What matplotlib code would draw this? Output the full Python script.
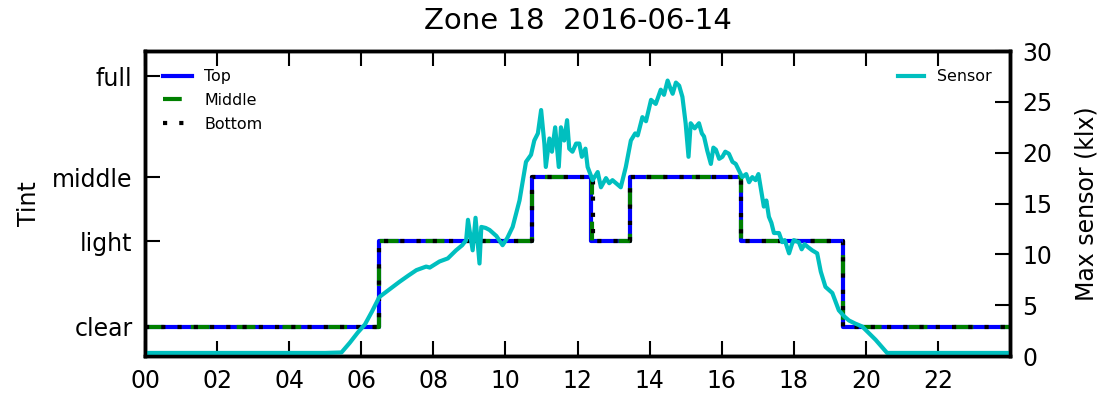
import numpy as np
import matplotlib
matplotlib.use('Agg')
import matplotlib.pyplot as plt

# tint schedule (hours, level) for each window pane
tint_names = ['clear', 'light', 'middle', 'full']
tint_pos = [2.9, 11.3, 17.6, 27.5]

top_t = [0.0, 6.49, 10.75, 12.38, 13.45, 16.55, 19.37, 24.0]
top_lvl = ['clear', 'light', 'middle', 'light', 'middle', 'light', 'clear', 'clear']
mid_t = [0.0, 6.49, 10.75, 12.39, 13.45, 16.55, 19.37, 24.0]
mid_lvl = ['clear', 'light', 'middle', 'light', 'middle', 'light', 'clear', 'clear']
bot_t = [0.0, 6.49, 10.75, 12.44, 13.45, 16.55, 19.37, 24.0]
bot_lvl = ['clear', 'light', 'middle', 'light', 'middle', 'light', 'clear', 'clear']

# max sensor reading, klx
sens_t = [0.0, 1.0, 2.0, 3.0, 4.0, 5.0, 5.45, 5.68, 5.9, 6.1, 6.3, 6.5, 6.8, 7.06, 7.3, 7.53,
          7.8, 7.9, 8.17, 8.4, 8.63, 8.8, 8.91, 8.96, 9.02, 9.09, 9.17, 9.22, 9.28, 9.33,
          9.45, 9.56, 9.75, 9.92, 10.05, 10.2, 10.39, 10.57, 10.71, 10.8, 10.9, 10.99, 11.08,
          11.12, 11.22, 11.29, 11.38, 11.48, 11.54, 11.63, 11.71, 11.77, 11.86, 11.96, 12.05,
          12.12, 12.22, 12.28, 12.42, 12.56, 12.65, 12.79, 12.88, 12.97, 13.1, 13.2, 13.34,
          13.48, 13.6, 13.67, 13.8, 13.9, 14.04, 14.17, 14.31, 14.4, 14.5, 14.58, 14.64,
          14.73, 14.82, 14.91, 15.0, 15.08, 15.14, 15.25, 15.37, 15.45, 15.51, 15.6, 15.7,
          15.77, 15.84, 15.93, 16.02, 16.1, 16.2, 16.3, 16.39, 16.57, 16.68, 16.76, 16.85,
          16.94, 17.02, 17.08, 17.17, 17.24, 17.31, 17.38, 17.45, 17.59, 17.68, 17.75, 17.87,
          17.95, 18.0, 18.14, 18.22, 18.3, 18.4, 18.51, 18.65, 18.75, 18.88, 19.07, 19.25,
          19.4, 19.53, 19.7, 19.9, 20.27, 20.59, 21.0, 22.0, 23.0, 24.0]
sens_v = [0.3, 0.3, 0.3, 0.3, 0.3, 0.3, 0.35, 1.3, 2.3, 3.1, 4.4, 5.8, 6.6, 7.3, 7.9, 8.45,
          8.8, 8.7, 9.3, 9.6, 10.4, 10.9, 11.4, 13.4, 12.0, 10.4, 13.6, 11.5, 9.1, 12.7,
          12.6, 12.4, 11.8, 10.9, 11.6, 12.7, 15.3, 19.1, 19.8, 21.2, 21.9, 24.2, 20.9,
          18.6, 21.4, 20.1, 22.5, 18.6, 22.5, 21.2, 23.2, 20.4, 20.1, 20.9, 20.9,
          19.6, 20.4, 18.6, 17.3, 18.1, 16.6, 17.5, 17.0, 17.3, 16.9, 16.6, 18.6,
          21.2, 21.9, 21.7, 23.5, 23.1, 25.2, 24.8, 26.2, 25.7, 27.1, 26.3, 25.8,
          26.9, 26.6, 25.5, 22.9, 19.6, 22.9, 22.4, 22.9, 21.9, 21.6, 20.2, 18.9,
          20.5, 20.3, 19.4, 19.6, 20.1, 19.9, 19.1, 18.9, 17.6, 17.9, 17.1, 17.6,
          17.3, 17.9, 16.6, 14.7, 15.3, 13.7, 13.1, 12.1, 12.1, 11.2, 11.4, 10.1,
          11.0, 11.4, 11.2, 10.5, 11.0, 10.7, 10.4, 10.1, 8.3, 6.8, 6.2, 4.5,
          3.9, 3.5, 3.2, 2.9, 1.6, 0.3, 0.3, 0.3, 0.3, 0.3]

hour_ticks = list(range(0, 24, 2))
hour_labels = ['%02d' % h for h in hour_ticks]

lvl = dict(zip(tint_names, tint_pos))
fs = 17
lw = 3.0

fig = plt.figure(figsize=(10.99, 3.96), dpi=100)
ax = fig.add_axes([0.132, 0.101, 0.787, 0.770])
ax.plot(top_t, [lvl[k] for k in top_lvl], color='b', lw=lw, drawstyle='steps-post', label='Top')
ax.plot(mid_t, [lvl[k] for k in mid_lvl], color='g', lw=lw, drawstyle='steps-post',
        ls=(0, (4.5, 6.5)), label='Middle')
ax.plot(bot_t, [lvl[k] for k in bot_lvl], color='k', lw=lw, drawstyle='steps-post',
        ls=(0, (1.0, 2.9)), label='Bottom')
ax.set_xlim(0, 24)
ax.set_ylim(0, 30)
ax.set_yticks(tint_pos)
ax.set_yticklabels(tint_names)
ax.set_xticks(hour_ticks)
ax.set_xticklabels(hour_labels)
ax.set_ylabel('Tint', fontsize=fs, labelpad=8)
ax.tick_params(axis='both', direction='in', length=11, width=1.5, labelsize=fs, pad=9)
ax.tick_params(axis='x', top=True)
ax.tick_params(axis='y', right=False)
for s in ax.spines.values():
    s.set_linewidth(2.5)
ax.legend(loc='upper left', frameon=False, fontsize=11.4, handlelength=1.8,
          labelspacing=0.55, borderaxespad=0.75)

ax2 = ax.twinx()
ax2.plot(sens_t, sens_v, color='c', lw=lw, label='Sensor')
ax2.set_ylim(0, 30)
ax2.set_yticks(range(0, 31, 5))
ax2.set_ylabel('Max sensor (klx)', fontsize=fs, labelpad=16)
ax2.tick_params(axis='y', direction='in', length=11, width=1.5, labelsize=fs, pad=9)
for s in ax2.spines.values():
    s.set_linewidth(2.5)
ax2.legend(loc='upper right', frameon=False, fontsize=11.4, handlelength=1.65,
           borderaxespad=0.75)

ax.set_title('Zone 18  2016-06-14', fontsize=21, pad=16)
fig.savefig('out.png', dpi=100)
